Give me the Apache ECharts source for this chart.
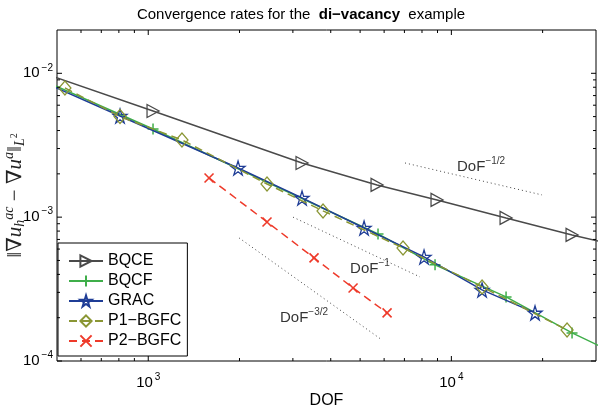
<!DOCTYPE html>
<html>
<head>
<meta charset="utf-8">
<script src="https://cdn.jsdelivr.net/npm/echarts@6/dist/echarts.min.js"></script>
<style>
html, body { margin: 0; padding: 0; background: #fff; }
#chart { width: 602px; height: 410px; }
</style>
</head>
<body>
<div id="chart"></div>
<script>
// values (DOF vs error)
// first/last entries of BQCE, GRAC, BQCF lie outside the visible range (line runs to the frame)
const bqceDof = [330, 1037, 3216, 5686, 8968, 15150, 25010, 40000];
const bqceErr = [1.26e-2, 5.47e-3, 2.38e-3, 1.675e-3, 1.317e-3, 9.87e-4, 7.52e-4, 5.95e-4];

const bqcfDof = [400, 1037, 5728, 8833, 15150, 25010, 40000];
const bqcfErr = [9.95e-3, 4.10e-3, 7.64e-4, 4.66e-4, 2.79e-4, 1.568e-4, 9.8e-5];

const gracDof = [330, 807, 1978, 3216, 5152, 8125, 12627, 18880];
const gracErr = [1.16e-2, 5.05e-3, 2.198e-3, 1.36e-3, 8.41e-4, 5.29e-4, 3.12e-4, 2.16e-4];

const p1Dof = [531, 807, 1292, 2465, 3772, 6927, 12627, 24080];
const p1Err = [7.91e-3, 5.0e-3, 3.44e-3, 1.70e-3, 1.105e-3, 6.11e-4, 3.27e-4, 1.645e-4];

const p2Dof = [1587, 2465, 3523, 4739, 6136];
const p2Err = [1.873e-3, 9.26e-4, 5.21e-4, 3.22e-4, 2.16e-4];

// reference slopes (dotted), start/end points
const rateHalfDof = [7033, 19910];
const rateHalfErr = [2.38e-3, 1.427e-3];
const rateOneDof = [3003, 7880];
const rateOneErr = [1.0e-3, 3.84e-4];
const rateThreeHalfDof = [1994, 5905];
const rateThreeHalfErr = [7.17e-4, 1.40e-4];

// rate annotations
const rateLabelDof = [10440, 4632, 2720];
const rateLabelErr = [2.23e-3, 4.37e-4, 1.99e-4];
const rateLabelExp = ['−1/2', '−1', '−3/2'];

// axis ticks
const xMajor = [1000, 10000];
const xMinor = [600, 700, 800, 900, 2000, 3000, 4000, 5000, 6000, 7000, 8000, 9000, 20000];
const yMajor = [1e-4, 1e-3, 1e-2];
const yMinor = [2e-4, 3e-4, 4e-4, 5e-4, 6e-4, 7e-4, 8e-4, 9e-4,
                2e-3, 3e-3, 4e-3, 5e-3, 6e-3, 7e-3, 8e-3, 9e-3];

const SANS = "'Liberation Sans', Arial, Helvetica, sans-serif";
const SERIF = "'Liberation Serif', 'DejaVu Serif', serif";

function pairs(xs, ys) {
    return xs.map((x, i) => [x, ys[i]]);
}

function powLabel(v) {
    const e = Math.round(Math.log10(v));
    return '{b|10}{s|' + String(e).replace('-', '−') + '}';
}

const powRich = {
    b: { fontSize: 15, fontFamily: SANS, color: '#000' },
    s: { fontSize: 10, fontFamily: SANS, color: '#000', padding: [0, 0, 11, 2] }
};

// tick marks drawn inward on all four sides
function renderXTick(params, api) {
    const cs = params.coordSys;
    const x = api.coord([api.value(0), 1e-3])[0];
    const len = api.value(2) === 1 ? 5 : 3;
    const st = { stroke: '#000', lineWidth: 1 };
    return {
        type: 'group',
        children: [
            { type: 'line', shape: { x1: x, y1: cs.y + cs.height, x2: x, y2: cs.y + cs.height - len }, style: st },
            { type: 'line', shape: { x1: x, y1: cs.y, x2: x, y2: cs.y + len }, style: st }
        ]
    };
}
function renderYTick(params, api) {
    const cs = params.coordSys;
    const y = api.coord([1000, api.value(1)])[1];
    const len = api.value(2) === 1 ? 5 : 3;
    const st = { stroke: '#000', lineWidth: 1 };
    return {
        type: 'group',
        children: [
            { type: 'line', shape: { x1: cs.x, y1: y, x2: cs.x + len, y2: y }, style: st },
            { type: 'line', shape: { x1: cs.x + cs.width, y1: y, x2: cs.x + cs.width - len, y2: y }, style: st }
        ]
    };
}

const xTickData = xMajor.map(v => [v, 1e-3, 1]).concat(xMinor.map(v => [v, 1e-3, 0]));
const yTickData = yMajor.map(v => [1000, v, 1]).concat(yMinor.map(v => [1000, v, 0]));

const triRight = 'path://M0,0L10,5L0,10Z';
const plusSym = 'path://M5,0L5,10M0,5L10,5';
const crossSym = 'path://M0,0L10,10M10,0L0,10';
const starSym = 'path://M50,0L61,35L98,35L68,57L79,91L50,70L21,91L32,57L2,35L39,35Z';

function refLine(xs, ys) {
    return {
        type: 'line',
        data: pairs(xs, ys),
        symbol: 'none',
        silent: true,
        lineStyle: { color: '#444', width: 1, type: [1, 3] },
        z: 1
    };
}

const chart = echarts.init(document.getElementById('chart'));

const option = {
    animation: false,
    backgroundColor: '#fff',
    title: {
        text: '{n|Convergence rates for the  }{b|di−vacancy}{n|  example}',
        left: 'center',
        top: 2,
        textStyle: {
            fontWeight: 'normal',
            rich: {
                n: { fontSize: 15, fontFamily: SANS, fontWeight: 'normal', color: '#000' },
                b: { fontSize: 15, fontFamily: SANS, fontWeight: 'bold', color: '#000' }
            }
        }
    },
    grid: {
        left: 57, right: 6, top: 30, bottom: 49,
        outerBoundsMode: 'none',
        containLabel: false,
        show: true, borderColor: '#000', borderWidth: 1, backgroundColor: '#fff'
    },
    legend: {
        data: ['BQCE', 'BQCF', 'GRAC', 'P1−BGFC', 'P2−BGFC'],
        orient: 'vertical',
        left: 58, top: 243,
        backgroundColor: '#fff',
        borderColor: '#000', borderWidth: 1, borderRadius: 0,
        padding: [10, 6, 7, 10],
        itemGap: 4,
        itemWidth: 34,
        itemHeight: 14,
        selectedMode: false,
        textStyle: { fontSize: 16, fontFamily: SANS, color: '#000' }
    },
    xAxis: {
        type: 'log', logBase: 10, min: 500, max: 30000,
        axisLine: { show: false },
        axisTick: { show: false },
        splitLine: { show: false },
        axisLabel: {
            showMinLabel: false, showMaxLabel: false, hideOverlap: false,
            formatter: powLabel, margin: 11, rich: powRich
        },
        name: 'DOF', nameLocation: 'middle', nameGap: 32, nameMoveOverlap: false,
        nameTextStyle: { fontSize: 16, fontFamily: SANS, color: '#000' }
    },
    yAxis: {
        type: 'log', logBase: 10, min: 1e-4, max: 2e-2,
        axisLine: { show: false },
        axisTick: { show: false },
        splitLine: { show: false },
        axisLabel: {
            showMinLabel: true, showMaxLabel: false, hideOverlap: false,
            formatter: powLabel, margin: 4, rich: powRich
        },
        name: '{n|‖∇}{i|u}{sb|h}{sp|ac}{n| − ∇}{i|u}{sp|a}{n|‖}{sb|L}{ssp|2}',
        nameLocation: 'middle', nameRotate: 90, nameGap: 28, nameMoveOverlap: false,
        nameTextStyle: {
            rich: {
                n: { fontSize: 21, fontFamily: SERIF, color: '#222' },
                i: { fontSize: 21, fontFamily: SERIF, fontStyle: 'italic', color: '#222' },
                sp: { fontSize: 14, fontFamily: SERIF, fontStyle: 'italic', color: '#222', padding: [0, 0, 13, 0] },
                sb: { fontSize: 14, fontFamily: SERIF, fontStyle: 'italic', color: '#222', padding: [10, 0, 0, 0] },
                ssp: { fontSize: 10, fontFamily: SERIF, color: '#222', padding: [0, 0, 3, 0] }
            }
        }
    },
    series: [
        refLine(rateHalfDof, rateHalfErr),
        refLine(rateOneDof, rateOneErr),
        refLine(rateThreeHalfDof, rateThreeHalfErr),
        {
            type: 'scatter',
            data: pairs(rateLabelDof, rateLabelErr),
            symbolSize: 0,
            silent: true,
            label: {
                show: true, position: 'right', distance: 0,
                formatter: p => '{b|DoF}{s|' + rateLabelExp[p.dataIndex] + '}',
                rich: {
                    b: { fontSize: 15, fontFamily: SANS, color: '#000' },
                    s: { fontSize: 10, fontFamily: SANS, color: '#000', padding: [0, 0, 11, 0] }
                }
            }
        },
        {
            name: 'BQCE', type: 'line', data: pairs(bqceDof, bqceErr),
            symbol: triRight, symbolSize: [12, 13], showAllSymbol: true,
            lineStyle: { color: '#4a4a4a', width: 1.5 },
            itemStyle: { color: 'rgba(255,255,255,0)', borderColor: '#4a4a4a', borderWidth: 1.3 },
            z: 3
        },
        {
            name: 'BQCF', type: 'line', data: pairs(bqcfDof, bqcfErr),
            symbol: plusSym, symbolSize: 11, showAllSymbol: true,
            lineStyle: { color: '#3fae4a', width: 1.5 },
            itemStyle: { color: 'rgba(255,255,255,0)', borderColor: '#3fae4a', borderWidth: 1.5 },
            z: 4
        },
        {
            name: 'GRAC', type: 'line', data: pairs(gracDof, gracErr),
            symbol: starSym, symbolSize: 14, showAllSymbol: true,
            lineStyle: { color: '#1f3d96', width: 1.5 },
            itemStyle: { color: 'rgba(255,255,255,0)', borderColor: '#1f3d96', borderWidth: 1.3 },
            z: 5
        },
        {
            name: 'P1−BGFC', type: 'line', data: pairs(p1Dof, p1Err),
            symbol: 'diamond', symbolSize: [12, 14], showAllSymbol: true,
            lineStyle: { color: '#8a9634', width: 1.5, type: [8, 5] },
            itemStyle: { color: 'rgba(255,255,255,0)', borderColor: '#8a9634', borderWidth: 1.3 },
            z: 6
        },
        {
            name: 'P2−BGFC', type: 'line', data: pairs(p2Dof, p2Err),
            symbol: crossSym, symbolSize: 9, showAllSymbol: true,
            lineStyle: { color: '#ee3a2a', width: 1.5, type: [8, 5] },
            itemStyle: { color: 'rgba(255,255,255,0)', borderColor: '#ee3a2a', borderWidth: 1.6 },
            z: 7
        },
        {
            type: 'custom', data: xTickData, renderItem: renderXTick,
            encode: { x: 0, y: 1 }, clip: false, silent: true, z: 10
        },
        {
            type: 'custom', data: yTickData, renderItem: renderYTick,
            encode: { x: 0, y: 1 }, clip: false, silent: true, z: 10
        }
    ]
};

chart.setOption(option);
</script>
</body>
</html>
